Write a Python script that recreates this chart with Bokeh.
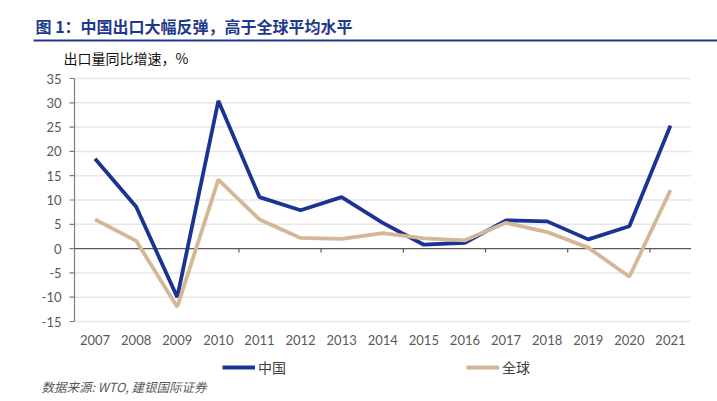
import math
from bokeh.plotting import figure
from bokeh.models import Range1d, Label, BoxAnnotation, Legend, LegendItem
from bokeh.core.properties import value
from bokeh.embed import file_html
from bokeh.resources import INLINE

years = ["2007", "2008", "2009", "2010", "2011", "2012", "2013", "2014",
         "2015", "2016", "2017", "2018", "2019", "2020", "2021"]
china = [18.5, 8.6, -10.0, 30.4, 10.6, 7.9, 10.6, 5.3, 0.8, 1.2, 5.8, 5.6, 1.9, 4.6, 25.3]
world = [6.0, 1.6, -12.0, 14.2, 6.0, 2.2, 2.0, 3.2, 2.1, 1.7, 5.3, 3.4, 0.2, -5.8, 12.0]
y_ticks = [-15, -10, -5, 0, 5, 10, 15, 20, 25, 30, 35]

title_text = "图 1：中国出口大幅反弹，高于全球平均水平"
subtitle_text = "出口量同比增速，%"
source_text = "数据来源: WTO, 建银国际证券"

BLUE = "#1B3494"
TAN = "#D4B896"
GRAY = "#595959"
NAVY = "#1F3A8A"
CJK = "Noto Sans CJK SC"

W, H = 717, 401
# plot-area placement inside the canvas (pixels)
FL, FR, FT, FB = 74, 690.5, 78, 321
n = len(years)
ymin, ymax = y_ticks[0], y_ticks[-1]
kx = (FR - FL) / n
ky = (FB - FT) / (ymax - ymin)
x_range = Range1d(0 - FL / kx, n + (W - FR) / kx)
y_range = Range1d(ymin - (H - FB) / ky, ymax + FT / ky)

p = figure(width=W, height=H, output_backend="svg", toolbar_location=None,
           x_range=x_range, y_range=y_range, x_axis_location=None, y_axis_location=None,
           min_border=0)
p.outline_line_color = None
p.grid.visible = False
p.background_fill_color = "white"
p.border_fill_color = "white"

xs = [i + 0.5 for i in range(n)]

# horizontal grid lines
grid_y = [t for t in y_ticks if t != 0]
p.segment(x0=[0] * len(grid_y), y0=grid_y, x1=[n] * len(grid_y), y1=grid_y,
          line_color="#E6E6E6", line_width=1.5)

# y axis line, ticks, labels
p.segment(x0=[0], y0=[ymin], x1=[0], y1=[ymax], line_color="#7F7F7F", line_width=1.2)
p.ray(x=[0] * len(y_ticks), y=y_ticks, length=5, length_units="screen", angle=math.pi,
      line_color="#7F7F7F", line_width=1.2)
p.text(x=[0] * len(y_ticks), y=y_ticks, text=[str(t) for t in y_ticks], x_offset=-13,
       text_align="right", text_baseline="middle", text_font=value("Lato"),
       text_font_size="13px", text_color=GRAY)

# zero line with category-boundary ticks
p.segment(x0=[0], y0=[0], x1=[n], y1=[0], line_color="#595959", line_width=1.2)
bounds = list(range(2, n + 1, 2))
p.ray(x=bounds, y=[0] * len(bounds), length=4, length_units="screen", angle=-math.pi / 2,
      line_color="#595959", line_width=1.2)

# x labels
p.text(x=xs, y=[ymin] * n, text=years, y_offset=18, text_align="center",
       text_baseline="middle", text_font=value("Lato"), text_font_size="13px",
       text_color=GRAY)

# series
r_cn = p.line(xs, china, line_color=BLUE, line_width=3.8)
r_w = p.line(xs, world, line_color=TAN, line_width=3.8)

legend = Legend(items=[LegendItem(label="中国", renderers=[r_cn]),
                       LegendItem(label="全球", renderers=[r_w])],
                orientation="horizontal", location=(222, 24),
                spacing=180, glyph_width=33, glyph_height=14, label_height=14,
                label_width=28, label_standoff=3, padding=0, margin=0,
                border_line_color=None, background_fill_alpha=0,
                label_text_font=CJK, label_text_font_size="14px",
                label_text_color="#404040")
p.add_layout(legend)

# title, rule, subtitle, source (screen units)
p.add_layout(Label(x=35, y=H - 25, x_units="screen", y_units="screen", text=title_text,
                   text_baseline="middle", text_font=CJK, text_font_size="16px",
                   text_font_style="bold", text_color=NAVY))
p.add_layout(BoxAnnotation(left=33, right=W, top=H - 39, bottom=H - 41,
                           left_units="screen", right_units="screen",
                           top_units="screen", bottom_units="screen",
                           fill_color=NAVY, fill_alpha=1, line_color=None))
p.add_layout(Label(x=63, y=H - 57, x_units="screen", y_units="screen", text=subtitle_text,
                   text_baseline="middle", text_font=CJK, text_font_size="14px",
                   text_color="#111111"))
p.add_layout(Label(x=41, y=H - 386, x_units="screen", y_units="screen", text=source_text,
                   text_baseline="middle", text_font=CJK, text_font_size="12.5px",
                   text_font_style="italic", text_color=GRAY))

open("out.html", "w").write(file_html(p, INLINE))
